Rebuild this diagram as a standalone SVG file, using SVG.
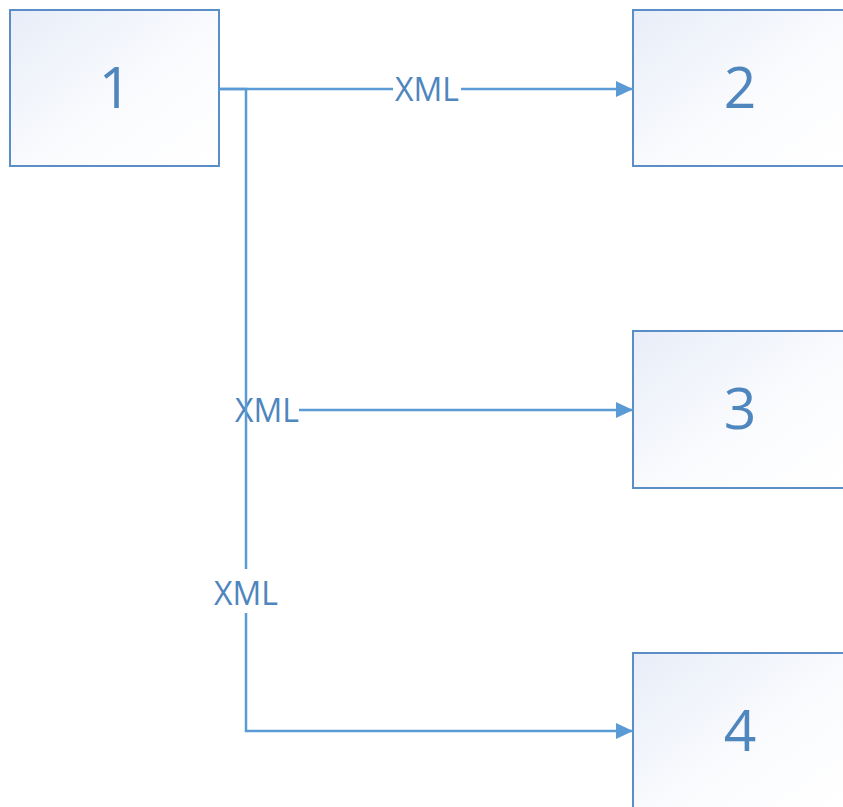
<svg xmlns="http://www.w3.org/2000/svg" width="843" height="807" viewBox="0 0 843 807">
<style>
.box{stroke:#5B8EC6;stroke-width:2;fill:url(#g)}
.num{font-family:"Open Sans",sans-serif;font-size:57px;fill:#4F86BE;text-anchor:middle}
.lbl{font-family:"Open Sans",sans-serif;font-size:32px;fill:#4F86BE;text-anchor:middle}
.ln{stroke:#5B9BD5;stroke-width:2.5;fill:none}
.bg{fill:#fff}
</style>
<defs>
<linearGradient id="g" x1="0" y1="0" x2="1" y2="1">
<stop offset="0" stop-color="#E8EDF8"/>
<stop offset="0.6" stop-color="#FBFCFE"/>
<stop offset="1" stop-color="#FFFFFF"/>
</linearGradient>
<marker id="a" markerWidth="18" markerHeight="18" refX="17" refY="8" orient="auto" markerUnits="userSpaceOnUse">
<path d="M0,0 L17,8 L0,16 Z" fill="#5B9BD5"/>
</marker>
</defs>
<g id="n1"><rect class="box" x="10" y="10" width="209" height="156"/><text class="num" x="115" y="108">1</text></g>
<g id="n2"><rect class="box" x="633" y="10" width="212" height="156"/><text class="num" x="740" y="108">2</text></g>
<g id="n3"><rect class="box" x="633" y="331" width="212" height="157"/><text class="num" x="740" y="429">3</text></g>
<g id="n4"><rect class="box" x="633" y="653" width="212" height="160"/><text class="num" x="740" y="751">4</text></g>
<g id="connectors">
<path class="ln" d="M219,89 H633" marker-end="url(#a)"/>
<rect class="bg" x="393" y="72" width="68" height="34"/>
<text class="lbl" x="427" y="101">XML</text>
<path class="ln" d="M246,410 H633" marker-end="url(#a)"/>
<rect class="bg" x="233" y="393" width="66" height="34"/>
<text class="lbl" x="267" y="422">XML</text>
<path class="ln" d="M219,89 H246 V731 H633" marker-end="url(#a)"/>
<rect class="bg" x="212" y="569" width="68" height="44"/>
<text class="lbl" x="246" y="605">XML</text>
</g>
</svg>
